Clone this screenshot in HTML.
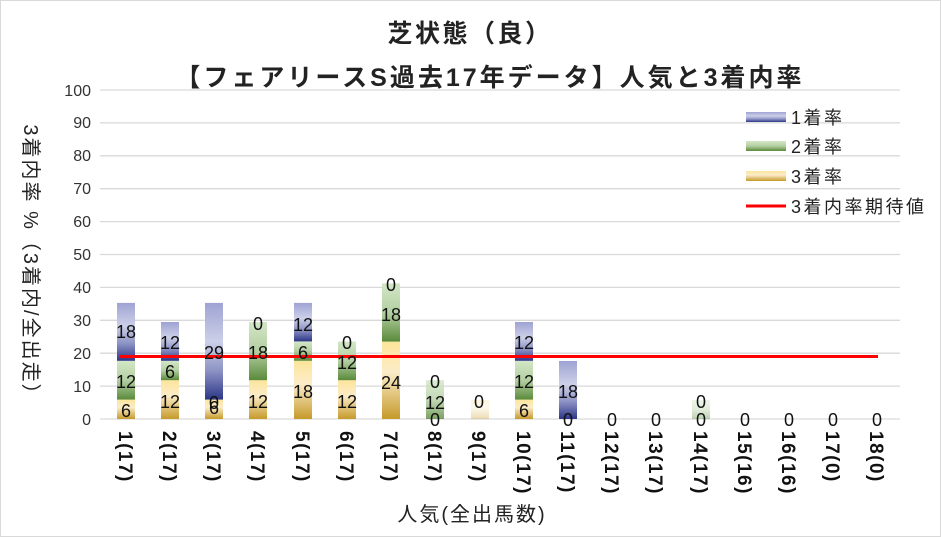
<!DOCTYPE html>
<html><head><meta charset="utf-8"><style>
body{margin:0;background:#fff}
svg{display:block;font-family:"Liberation Sans","Noto Sans CJK JP",sans-serif}
</style></head><body>
<svg width="941" height="537" viewBox="0 0 941 537" xmlns="http://www.w3.org/2000/svg">
<defs>
<linearGradient id="gb" x1="0" y1="0" x2="0" y2="1"><stop offset="0" stop-color="#9ea3d3"/><stop offset="0.4" stop-color="#cdd0e8"/><stop offset="0.7" stop-color="#8d93c4"/><stop offset="1" stop-color="#2c3688"/></linearGradient>
<linearGradient id="gg" x1="0" y1="0" x2="0" y2="1"><stop offset="0" stop-color="#d3e7c6"/><stop offset="0.5" stop-color="#b4cfa3"/><stop offset="1" stop-color="#5a8a3a"/></linearGradient>
<linearGradient id="gy" x1="0" y1="0" x2="0" y2="1"><stop offset="0" stop-color="#fde59a"/><stop offset="0.4" stop-color="#fbecc9"/><stop offset="1" stop-color="#c69a2a"/></linearGradient>
</defs>
<rect x="0.5" y="0.5" width="940" height="536" fill="#fff" stroke="#d9d9d9"/>
<text x="470" y="42" text-anchor="middle" font-size="25" font-weight="bold" letter-spacing="2.5" fill="#222">芝状態（良）</text>
<text x="490" y="86" text-anchor="middle" font-size="25" font-weight="bold" letter-spacing="3" fill="#222">【フェアリースS過去17年データ】人気と3着内率</text>
<g stroke="#d9d9d9" stroke-width="1.3">
<line x1="100" x2="900" y1="419" y2="419"/><line x1="100" x2="900" y1="386.1" y2="386.1"/><line x1="100" x2="900" y1="353.2" y2="353.2"/><line x1="100" x2="900" y1="320.3" y2="320.3"/><line x1="100" x2="900" y1="287.4" y2="287.4"/><line x1="100" x2="900" y1="254.5" y2="254.5"/><line x1="100" x2="900" y1="221.6" y2="221.6"/><line x1="100" x2="900" y1="188.7" y2="188.7"/><line x1="100" x2="900" y1="155.8" y2="155.8"/><line x1="100" x2="900" y1="122.9" y2="122.9"/><line x1="100" x2="900" y1="90" y2="90"/>
</g>
<g font-size="16" fill="#333" text-anchor="end">
<text x="91" y="425">0</text><text x="91" y="392">10</text><text x="91" y="359">20</text><text x="91" y="326">30</text><text x="91" y="293">40</text><text x="91" y="260">50</text><text x="91" y="227">60</text><text x="91" y="194">70</text><text x="91" y="161">80</text><text x="91" y="128">90</text><text x="91" y="96">100</text>
</g>
<text transform="translate(24,265) rotate(90)" text-anchor="middle" font-size="20" letter-spacing="2" fill="#222">3着内率 %（3着内/全出走）</text>
<g>
<rect x="117" y="399.6" width="18" height="19.4" fill="url(#gy)"/><rect x="117" y="360.8" width="18" height="38.8" fill="url(#gg)"/><rect x="117" y="302.9" width="18" height="57.9" fill="url(#gb)"/>
<rect x="161" y="380.2" width="18" height="38.8" fill="url(#gy)"/><rect x="161" y="360.8" width="18" height="19.4" fill="url(#gg)"/><rect x="161" y="322.0" width="18" height="38.8" fill="url(#gb)"/>
<rect x="205" y="399.6" width="18" height="19.4" fill="url(#gy)"/><rect x="205" y="302.9" width="18" height="96.7" fill="url(#gb)"/>
<rect x="249" y="380.2" width="18" height="38.8" fill="url(#gy)"/><rect x="249" y="322.0" width="18" height="58.2" fill="url(#gg)"/>
<rect x="294" y="360.8" width="18" height="58.2" fill="url(#gy)"/><rect x="294" y="341.4" width="18" height="19.4" fill="url(#gg)"/><rect x="294" y="302.9" width="18" height="38.5" fill="url(#gb)"/>
<rect x="338" y="380.2" width="18" height="38.8" fill="url(#gy)"/><rect x="338" y="341.6" width="18" height="38.6" fill="url(#gg)"/>
<rect x="382" y="341.6" width="18" height="77.4" fill="url(#gy)"/><rect x="382" y="283.4" width="18" height="58.2" fill="url(#gg)"/>
<rect x="426" y="380.2" width="18" height="38.8" fill="url(#gg)" opacity="0.8"/>
<rect x="471" y="400" width="18" height="19" fill="url(#gy)" opacity="0.35"/>
<rect x="515" y="399.6" width="18" height="19.4" fill="url(#gy)"/><rect x="515" y="360.8" width="18" height="38.8" fill="url(#gg)"/><rect x="515" y="322.0" width="18" height="38.8" fill="url(#gb)"/>
<rect x="559" y="361" width="18" height="58" fill="url(#gb)"/>
<rect x="692" y="400" width="18" height="19" fill="url(#gg)" opacity="0.4"/>
</g>
<line x1="120" x2="878" y1="356.5" y2="356.5" stroke="#ff0000" stroke-width="3"/>
<g font-size="18" fill="#111" text-anchor="middle">
<text x="126" y="417">6</text><text x="126" y="388">12</text><text x="126" y="338">18</text>
<text x="170" y="408">12</text><text x="170" y="378">6</text><text x="170" y="349">12</text>
<text x="214" y="414">6</text><text x="214" y="409">0</text><text x="214" y="359">29</text>
<text x="258" y="408">12</text><text x="258" y="359">18</text><text x="258" y="330">0</text>
<text x="303" y="398">18</text><text x="303" y="359">6</text><text x="303" y="331">12</text>
<text x="347" y="408">12</text><text x="347" y="369">12</text><text x="347" y="349">0</text>
<text x="391" y="389">24</text><text x="391" y="321">18</text><text x="391" y="291">0</text>
<text x="435" y="426">0</text><text x="435" y="409">12</text><text x="435" y="388">0</text>
<text x="479" y="408">0</text>
<text x="524" y="417">6</text><text x="524" y="388">12</text><text x="524" y="349">12</text>
<text x="568" y="426">0</text><text x="568" y="398">18</text>
<text x="612" y="426">0</text><text x="656" y="426">0</text><text x="701" y="426">0</text><text x="701" y="408">0</text>
<text x="745" y="426">0</text><text x="789" y="426">0</text><text x="833" y="426">0</text><text x="877" y="426">0</text>
</g>
<g font-size="19" font-weight="bold" letter-spacing="1.5" fill="#111">
<text transform="translate(119,431) rotate(90)">1(17)</text>
<text transform="translate(163,431) rotate(90)">2(17)</text>
<text transform="translate(207,431) rotate(90)">3(17)</text>
<text transform="translate(251,431) rotate(90)">4(17)</text>
<text transform="translate(296,431) rotate(90)">5(17)</text>
<text transform="translate(340,431) rotate(90)">6(17)</text>
<text transform="translate(384,431) rotate(90)">7(17)</text>
<text transform="translate(428,431) rotate(90)">8(17)</text>
<text transform="translate(472,431) rotate(90)">9(17)</text>
<text transform="translate(517,431) rotate(90)">10(17)</text>
<text transform="translate(561,431) rotate(90)">11(17)</text>
<text transform="translate(605,431) rotate(90)">12(17)</text>
<text transform="translate(649,431) rotate(90)">13(17)</text>
<text transform="translate(694,431) rotate(90)">14(17)</text>
<text transform="translate(738,431) rotate(90)">15(16)</text>
<text transform="translate(782,431) rotate(90)">16(16)</text>
<text transform="translate(826,431) rotate(90)">17(0)</text>
<text transform="translate(870,431) rotate(90)">18(0)</text>
</g>
<text x="472" y="521" text-anchor="middle" font-size="20" letter-spacing="2" fill="#222">人気(全出馬数)</text>
<g font-size="18" letter-spacing="2.5" fill="#222">
<rect x="746" y="112" width="40" height="10" fill="url(#gb)"/><text x="791" y="124">1着率</text>
<rect x="746" y="141" width="40" height="10" fill="url(#gg)"/><text x="791" y="153">2着率</text>
<rect x="746" y="171" width="40" height="10" fill="url(#gy)"/><text x="791" y="183">3着率</text>
<line x1="746" x2="786" y1="206" y2="206" stroke="#ff0000" stroke-width="3"/><text x="791" y="213">3着内率期待値</text>
</g>
</svg>
</body></html>
